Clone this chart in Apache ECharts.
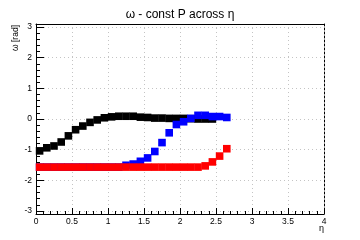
<!DOCTYPE html>
<html>
<head>
<meta charset="utf-8">
<script src="https://cdn.jsdelivr.net/npm/echarts@6/dist/echarts.min.js"></script>
<style>
    html, body {margin:0;padding:0;background:#fff;}
    #chart {width:360px;height:240px;}
</style>
</head>
<body>
<div id="chart"></div>
<script>
    // eta bin centres
    var eta = [0.05, 0.15, 0.25, 0.35, 0.45, 0.55, 0.65, 0.75, 0.85, 0.95,
               1.05, 1.15, 1.25, 1.35, 1.45, 1.55, 1.65, 1.75, 1.85, 1.95,
               2.05, 2.15, 2.25, 2.35, 2.45, 2.55, 2.65];
    // omega values
    var omegaBlack = [-1.04, -0.94, -0.88, -0.75, -0.55, -0.35, -0.23, -0.11, -0.03, 0.04,
                      0.07, 0.09, 0.09, 0.09, 0.06, 0.05, 0.03, 0.03, 0.02, 0.02,
                      0.02, 0.01, 0.0, 0.0, 0.0];
    var omegaBlue = [-1.57, -1.57, -1.57, -1.57, -1.57, -1.57, -1.57, -1.57, -1.57, -1.57,
                     -1.57, -1.57, -1.51, -1.47, -1.38, -1.27, -1.06, -0.77, -0.45, -0.18,
                     -0.09, 0.02, 0.12, 0.12, 0.08, 0.08, 0.05];
    var omegaRed = [-1.57, -1.57, -1.57, -1.57, -1.57, -1.57, -1.57, -1.57, -1.57, -1.57,
                    -1.57, -1.57, -1.57, -1.57, -1.57, -1.57, -1.57, -1.57, -1.57, -1.57,
                    -1.57, -1.57, -1.57, -1.53, -1.40, -1.21, -0.97];
    var xTicks = [0, 0.5, 1, 1.5, 2, 2.5, 3, 3.5, 4];
    var yTicks = [-3, -2, -1, 0, 1, 2, 3];

    var font = 'Liberation Sans';

    function pairs(ys) {
        return ys.map(function (y, i) { return [eta[i], y]; });
    }

    var chart = echarts.init(document.getElementById('chart'));

    var gridLine = {show: true, showMinLine: false, showMaxLine: false,
        lineStyle: {color: '#c4c4c4', type: [1, 3], width: 1}};

    var option = {
        animation: false,
        title: {
            text: 'ω - const P across η',
            left: 'center',
            top: 4,
            textStyle: {fontFamily: font, fontSize: 12, fontWeight: 'normal', color: '#000'}
        },
        grid: {left: 36, right: 36, top: 24, bottom: 26},
        xAxis: [
            {
                type: 'value', min: xTicks[0], max: xTicks[xTicks.length - 1], interval: 0.5,
                position: 'bottom',
                axisLine: {show: true, onZero: false, lineStyle: {color: '#000', width: 1}},
                axisTick: {show: true, inside: true, length: 6, lineStyle: {color: '#000'}},
                minorTick: {show: true, splitNumber: 5, length: 3, lineStyle: {color: '#000'}},
                axisLabel: {fontFamily: font, fontSize: 8.5, color: '#000', margin: 3},
                splitLine: gridLine
            },
            {
                type: 'value', min: 0, max: 4, position: 'top',
                axisLine: {show: true, onZero: false, lineStyle: {color: '#000', width: 1}},
                axisTick: {show: false}, axisLabel: {show: false}, splitLine: {show: false}
            }
        ],
        yAxis: [
            {
                type: 'value', min: -3.1, max: 3.1, splitNumber: yTicks.length - 1,
                axisLine: {show: true, onZero: false, lineStyle: {color: '#000', width: 1}},
                axisTick: {show: true, inside: true, length: 8, lineStyle: {color: '#000'}},
                minorTick: {show: true, splitNumber: 5, length: 4, lineStyle: {color: '#000'}},
                axisLabel: {fontFamily: font, fontSize: 8.5, color: '#000', margin: 4,
                    showMinLabel: false, showMaxLabel: false},
                splitLine: gridLine
            },
            {
                type: 'value', min: -3.1, max: 3.1, position: 'right',
                axisLine: {show: true, onZero: false, lineStyle: {color: '#000', width: 1, type: [2, 2]}},
                axisTick: {show: false}, axisLabel: {show: false}, splitLine: {show: false}
            }
        ],
        graphic: [
            {type: 'text', x: 16, y: 25, rotation: Math.PI / 2,
                style: {text: 'ω [rad]', fontFamily: font, fontSize: 8.5, fill: '#000',
                    align: 'right', verticalAlign: 'middle'}},
            {type: 'text', x: 324, y: 229,
                style: {text: 'η', fontFamily: font, fontSize: 9, fill: '#000',
                    align: 'right', verticalAlign: 'middle'}}
        ],
        series: [
            {type: 'scatter', symbol: 'rect', symbolSize: 7.6, data: pairs(omegaBlack),
                itemStyle: {color: '#000', opacity: 1}},
            {type: 'scatter', symbol: 'rect', symbolSize: 7.6, data: pairs(omegaBlue),
                itemStyle: {color: '#0000ff', opacity: 1}},
            {type: 'scatter', symbol: 'rect', symbolSize: 7.6, data: pairs(omegaRed),
                itemStyle: {color: '#ff0000', opacity: 1}}
        ]
    };
    chart.setOption(option);
</script>
</body>
</html>
